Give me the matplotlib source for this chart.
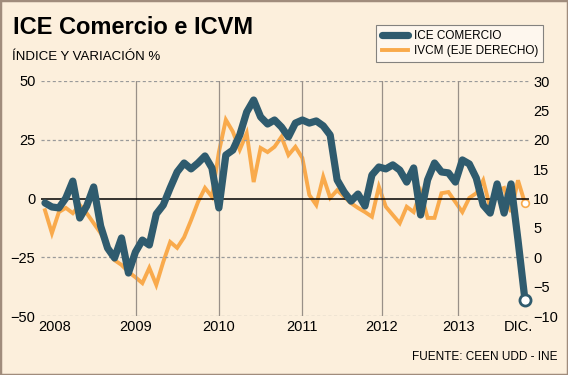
import matplotlib.pyplot as plt
from matplotlib.patches import Rectangle
import numpy as np

plt.rcParams['font.family'] = ['Liberation Sans', 'DejaVu Sans']

# ICE Comercio (eje izquierdo), mensual 2008 - dic 2013
ice = [-1.9, -3.6, -4.0, 0.2, 7.4, -8.3, -3.2, 4.9, -11.7, -21.1,
       -25.3, -16.8, -31.7, -22.8, -17.7, -19.8, -6.6, -2.8, 4.5, 11.3,
       15.1, 12.6, 15.1, 18.1, 13.0, -4.0, 18.5, 20.6, 27.0, 36.8,
       41.9, 34.7, 31.7, 33.4, 30.4, 26.2, 32.1, 33.4, 32.1, 33.0,
       30.9, 27.0, 7.9, 2.8, -1.1, 1.9, -3.2, 10.0, 13.4, 12.6,
       14.3, 12.1, 7.0, 13.0, -7.0, 7.9, 15.1, 11.3, 10.9, 7.0,
       16.4, 14.7, 8.7, -2.8, -6.2, 6.2, -6.2, 6.2, -17.7, -43.2]

# IVCM (eje derecho)
ivcm = [8.0, 4.1, 7.7, 8.4, 7.5, 8.9, 7.5, 5.8, 4.1, 1.9,
        -0.5, -1.3, -2.5, -3.4, -4.4, -1.8, -4.7, -0.8, 2.6, 1.6,
        3.4, 6.3, 9.4, 11.8, 10.3, 17.9, 23.4, 21.4, 18.3, 21.1,
        12.8, 18.6, 17.9, 18.8, 20.5, 17.4, 18.8, 16.9, 10.6, 8.9,
        13.7, 10.1, 11.4, 10.3, 9.2, 8.4, 7.7, 6.9, 12.0, 8.6,
        7.2, 5.8, 8.6, 7.7, 11.1, 6.7, 6.7, 10.9, 11.1, 9.4,
        7.7, 10.1, 10.9, 13.1, 8.4, 11.4, 11.8, 7.7, 13.1, 9.2]

year_labels = ['2008', '2009', '2010', '2011', '2012', '2013', 'DIC.']
year_pos = [1.4, 13.1, 25.0, 36.9, 48.4, 59.4, 68.1]

bg = '#fcefdc'
azul = '#2f5b6e'
naranja = '#f9aa4c'

x = np.arange(len(ice))

fig = plt.figure(figsize=(5.68, 3.75), dpi=100)
fig.patch.set_facecolor(bg)
fig.patches.append(Rectangle((0, 0), 1, 1, transform=fig.transFigure,
                             fill=False, edgecolor='#a08c7c', linewidth=2.5))

ax = fig.add_axes([0.0722, 0.1573, 0.859, 0.6267])
ax.set_facecolor(bg)
ax2 = ax.twinx()

ax.set_xlim(-0.57, 69.57)
ax.set_ylim(-50, 50)
ax2.set_ylim(-10, 30)

# grilla
for v in [50, 25, -25, -50]:
    ax.axhline(v, color='#9a9a9a', linestyle=(0, (2.5, 2)), linewidth=0.9, zorder=0)
ax.axhline(0, color='black', linewidth=1.1, zorder=1)
for p in year_pos[1:-1]:
    ax.axvline(p, color='#999088', linewidth=0.9, zorder=0)

ax2.plot(x, ivcm, color=naranja, linewidth=2.8, zorder=2, solid_joinstyle='miter')
ax2.plot(x[-1], ivcm[-1], 'o', markersize=5.5, markerfacecolor='white',
         markeredgecolor=naranja, markeredgewidth=1.2, zorder=3, clip_on=False)

ax.set_zorder(ax2.get_zorder() + 1)
ax.patch.set_visible(False)
ax2.patch.set_visible(False)
ax.plot(x, ice, color=azul, linewidth=5.2, zorder=4, solid_capstyle='round')
ax.plot(x[-1], ice[-1], 'o', markersize=8, markerfacecolor='white',
        markeredgecolor=azul, markeredgewidth=2, zorder=5, clip_on=False)

for a in (ax, ax2):
    for s in a.spines.values():
        s.set_visible(False)
    a.tick_params(length=0, labelsize=10.5)

ax.set_yticks([50, 25, 0, -25, -50])
ax.tick_params(axis='y', pad=4)
ax2.set_yticks([30, 25, 20, 15, 10, 5, 0, -5, -10])
ax2.tick_params(axis='y', pad=3)
ax.set_xticks(year_pos)
ax.set_xticklabels(year_labels)
ax.tick_params(axis='x', pad=3)

fig.text(0.023, 0.91, 'ICE Comercio e ICVM', fontsize=17, fontweight='bold')
fig.text(0.022, 0.84, 'ÍNDICE Y VARIACIÓN %', fontsize=9.5)
fig.text(0.981, 0.04, 'FUENTE: CEEN UDD - INE', fontsize=8.5, ha='right')

# leyenda
leg_ax = fig.add_axes([0.0722, 0.1573, 0.859, 0.6267], frameon=False)
leg_ax.axis('off')
h1, = leg_ax.plot([], [], color=azul, linewidth=5.2, solid_capstyle='round', label='ICE COMERCIO')
h2, = leg_ax.plot([], [], color=naranja, linewidth=2.8, label='IVCM (EJE DERECHO)')
leg = fig.legend(handles=[h1, h2], loc='upper right', bbox_to_anchor=(0.967, 0.95),
                 fontsize=8.5, frameon=True, fancybox=False, handlelength=2.2,
                 borderpad=0.45, labelspacing=0.25, handletextpad=0.5)
leg.get_frame().set_facecolor('#fffaf3')
leg.get_frame().set_edgecolor('#666666')
leg.get_frame().set_linewidth(0.8)

fig.savefig('out.png', dpi=100, facecolor=bg)
